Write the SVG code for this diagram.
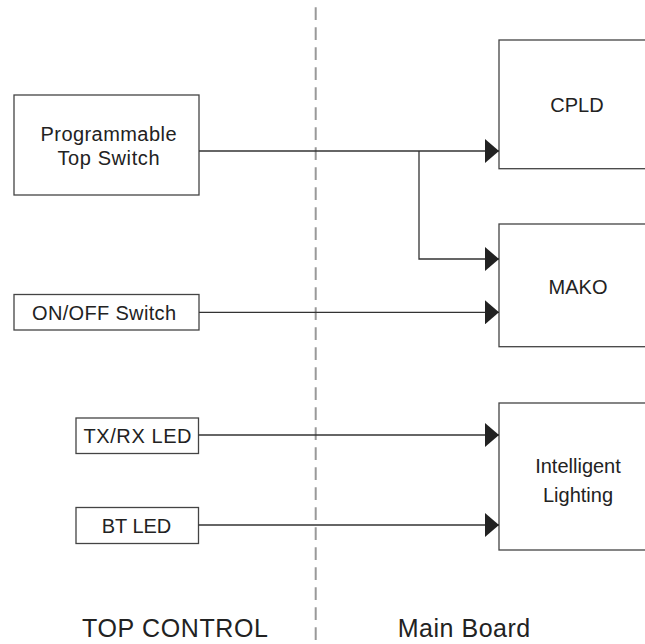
<svg xmlns="http://www.w3.org/2000/svg" width="645" height="644" viewBox="0 0 645 644">
<style>
.box{fill:#fff;stroke:#444;stroke-width:1.3}
.t{font-family:"Liberation Sans",Arial,sans-serif;font-size:20px;fill:#222;text-anchor:middle}
.lbl{font-family:"Liberation Sans",Arial,sans-serif;font-size:25px;fill:#222;text-anchor:middle}
.c{fill:none;stroke:#333;stroke-width:1.3}
.div{stroke:#999;stroke-width:2;stroke-dasharray:12.7 7.3;fill:none}
</style>
<defs>
<marker id="arr" markerUnits="userSpaceOnUse" markerWidth="14" markerHeight="24" refX="14" refY="12" orient="auto" viewBox="0 0 14 24">
<path d="M0,0 L14,12 L0,24 z" fill="#222"/>
</marker>
</defs>
<rect width="645" height="644" fill="#fff"/>
<line class="div" x1="315.7" y1="7.3" x2="315.7" y2="644"/>
<g id="prog"><rect class="box" x="14" y="95" width="185" height="100"/><text class="t" x="108.5" y="141" textLength="136">Programmable</text><text class="t" x="108.5" y="164.5" textLength="102">Top Switch</text></g>
<g id="onoff"><rect class="box" x="14" y="294.5" width="185" height="35.5"/><text class="t" x="104" y="320" textLength="144">ON/OFF Switch</text></g>
<g id="txrx"><rect class="box" x="76" y="418" width="122.5" height="35.5"/><text class="t" x="137.5" y="443.3" textLength="108">TX/RX LED</text></g>
<g id="bt"><rect class="box" x="76" y="507.5" width="122.5" height="36"/><text class="t" x="136.5" y="532.7">BT LED</text></g>
<g id="cpld"><rect class="box" x="499" y="40" width="170" height="128.7"/><text class="t" x="577" y="112">CPLD</text></g>
<g id="mako"><rect class="box" x="499" y="224" width="170" height="122.7"/><text class="t" x="578" y="293.5">MAKO</text></g>
<g id="light"><rect class="box" x="499" y="403" width="170" height="147"/><text class="t" x="578" y="472.7">Intelligent</text><text class="t" x="578" y="501.7">Lighting</text></g>
<g id="connectors">
<path class="c" d="M199,151 H499" marker-end="url(#arr)"/>
<path class="c" d="M419,151 V259 H499" marker-end="url(#arr)"/>
<path class="c" d="M199,312.3 H499" marker-end="url(#arr)"/>
<path class="c" d="M198.5,435 H499" marker-end="url(#arr)"/>
<path class="c" d="M198.5,525 H499" marker-end="url(#arr)"/>
</g>
<text class="lbl" x="175" y="636.5" textLength="186">TOP CONTROL</text>
<text class="lbl" x="464" y="636.5" textLength="132.5">Main Board</text>
</svg>
